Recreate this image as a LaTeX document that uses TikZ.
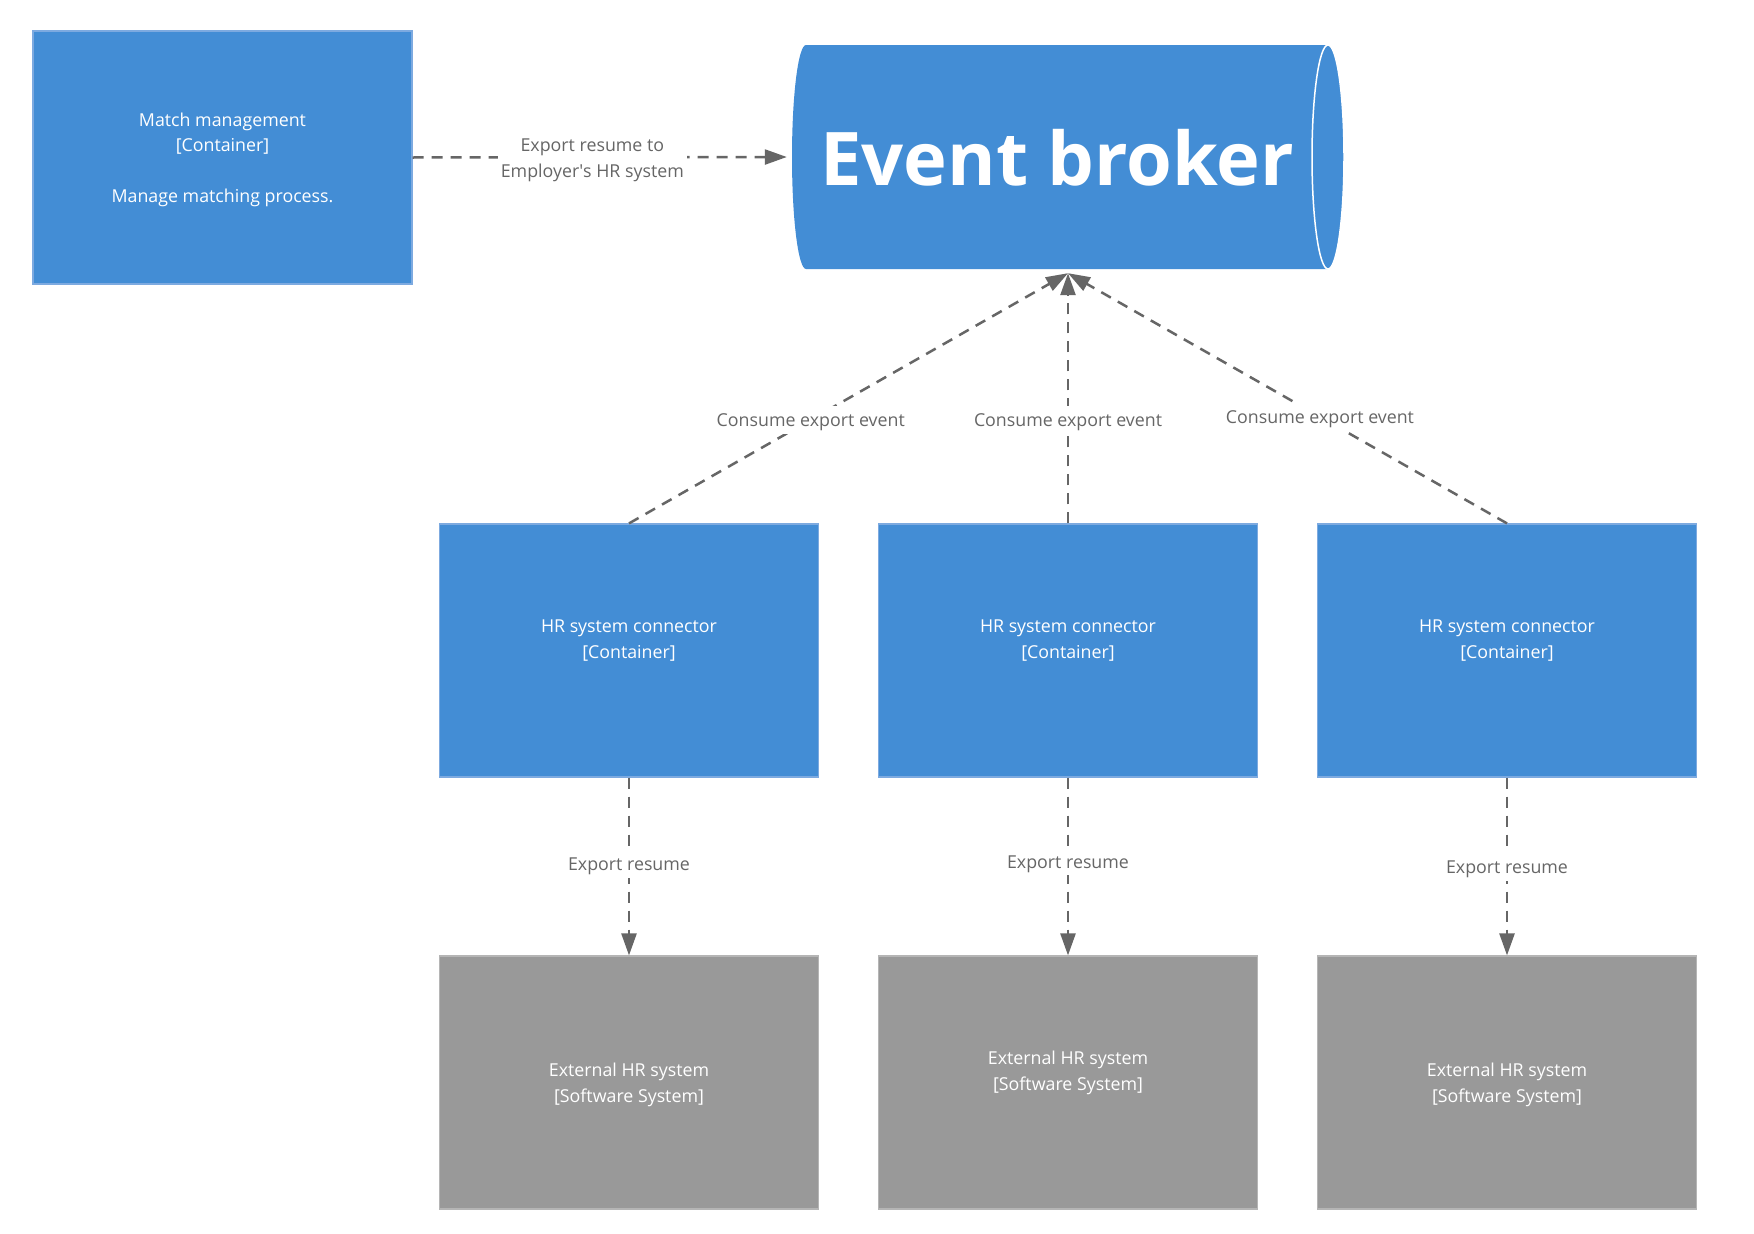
\documentclass[tikz,border=0pt]{standalone}
\usepackage{fontspec}
\setmainfont{Open Sans}
\usetikzlibrary{arrows.meta}
\definecolor{c4blue}{HTML}{438DD5}
\definecolor{c4blueedge}{HTML}{7DAAE0}
\definecolor{c4gray}{HTML}{999999}
\definecolor{c4grayedge}{HTML}{B5B5B5}
\definecolor{linkgray}{HTML}{666666}
\newcommand\firstln{\rule{0pt}{18pt}}
\newcommand\firstlnb{\rule{0pt}{15pt}}
\begin{document}
\begin{tikzpicture}[x=1pt,y=1pt,
  boxtext/.style={font=\fontsize{17.8}{25.5}\selectfont, text=white, align=center},
  container/.style={boxtext, rectangle, fill=c4blue, draw=c4blueedge, line width=1.2pt, minimum width=379pt, minimum height=253pt, inner sep=0pt},
  extsys/.style={container, fill=c4gray, draw=c4grayedge},
  rel/.style={draw=linkgray, line width=2.5pt, dash pattern=on 11pt off 8pt, -{Triangle[length=22pt,width=15pt]}},
  rellabel/.style={font=\fontsize{17.8}{25.5}\selectfont, text=linkgray, fill=white, align=center, inner sep=3pt},
  brokerfont/.style={font=\fontsize{74}{80}\bfseries\selectfont, text=white, inner sep=0pt},
]
\useasboundingbox[fill=white] (0,0) rectangle (1754,-1234);

% Event broker cylinder
\fill[c4blue] (806,-45) -- (1328,-45)
  arc[start angle=90, end angle=-90, x radius=16pt, y radius=112pt]
  -- (806,-269)
  arc[start angle=270, end angle=90, x radius=14pt, y radius=112pt] -- cycle;
\draw[white, line width=1.5pt] (1328,-157) ellipse [x radius=16pt, y radius=112pt];
\node[rectangle, minimum width=552pt, minimum height=224pt, inner sep=0pt] (broker) at (1068,-157) {};
\node[brokerfont] (brokerlbl) at (1057,-157.5) {Event broker};
\coordinate (bktip) at ([yshift=-4pt]broker.south);

% Containers
\node[container] (mm) at (222.5,-157.5) {\firstln Match management\\{[Container]}\\ \mbox{}\\Manage matching process.};
\node[container] (hr1) at (629,-650.5) {\firstlnb HR system connector\\{[Container]}\\ \mbox{}};
\node[container] (hr2) at (1068,-650.5) {\firstlnb HR system connector\\{[Container]}\\ \mbox{}};
\node[container] (hr3) at (1507,-650.5) {\firstlnb HR system connector\\{[Container]}\\ \mbox{}};

% External systems
\node[extsys] (ext1) at (629,-1082.5) {\firstln External HR system\\{[Software System]}};
\node[extsys] (ext2) at (1068,-1082.5) {\firstlnb External HR system\\{[Software System]}\\ \mbox{}};
\node[extsys] (ext3) at (1507,-1082.5) {\firstln External HR system\\{[Software System]}};

% Relationships
\draw[rel, shorten >=5pt] (mm.east) -- node[rellabel, pos=0.474] {\rule{0pt}{19pt}Export resume to\\Employer\textquotesingle s HR system} (broker.west);
\draw[rel] (hr1.north) -- node[rellabel, pos=0.414] {\firstln Consume export event} (bktip);
\draw[rel] (hr2.north) -- node[rellabel, pos=0.414] {\firstln Consume export event} (bktip);
\draw[rel] (hr3.north) -- node[rellabel, pos=0.426] {\firstln Consume export event} (bktip);
\draw[rel] (hr1.south) -- node[rellabel, pos=0.483] {\firstln Export resume} (ext1.north);
\draw[rel] (hr2.south) -- node[rellabel, pos=0.47] {\firstln Export resume} (ext2.north);
\draw[rel] (hr3.south) -- node[rellabel, pos=0.5] {\firstln Export resume} (ext3.north);
\end{tikzpicture}
\end{document}
